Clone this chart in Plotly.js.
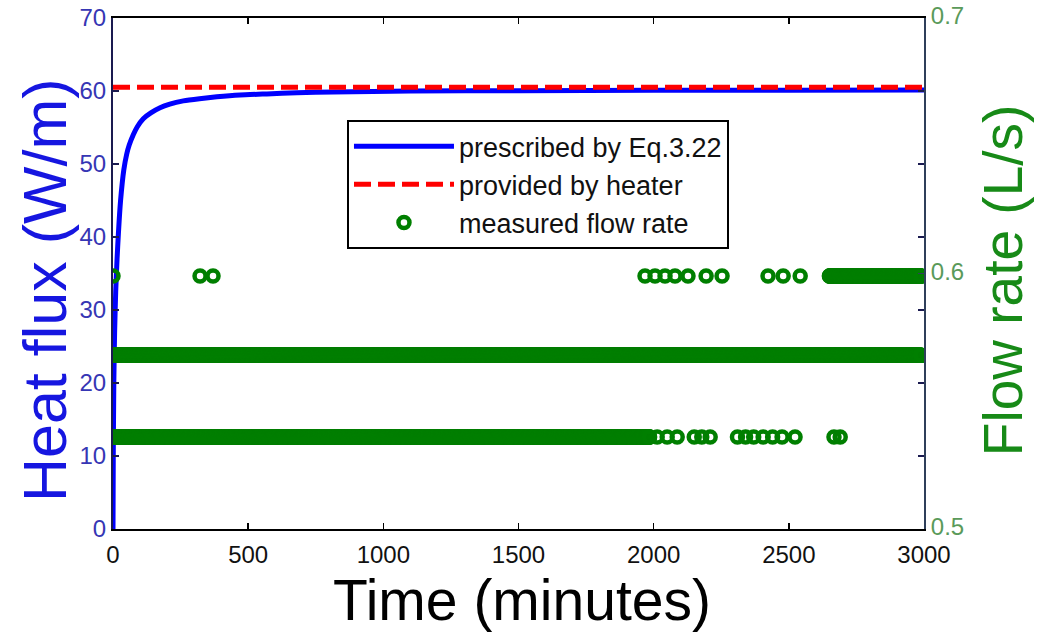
<!DOCTYPE html>
<html>
<head>
<meta charset="utf-8">
<script src="https://cdn.plot.ly/plotly-3.0.1.min.js"></script>
<style>
  html, body { margin: 0; padding: 0; background: #ffffff; }
  #chart { width: 1044px; height: 632px; }
</style>
</head>
<body>
<div id="chart"></div>
<script>
// Prescribed heat flux (Eq. 3.22), time in minutes, flux in W/m
const prescribedTime = [0, 1, 3, 6, 10, 15, 20, 28, 40, 51, 60, 75, 90, 112, 140, 174, 210, 260, 320, 384, 470, 569, 680, 815, 1100, 1500, 2000, 2500, 3000];
const prescribedFlux = [0, 10, 20, 27, 32.5, 37, 40.5, 45, 49.2, 51.4, 52.6, 54.0, 55.1, 56.2, 57.0, 57.7, 58.2, 58.65, 58.95, 59.2, 59.45, 59.6, 59.75, 59.88, 60.0, 60.05, 60.1, 60.1, 60.15];

// Heat flux delivered by the heater
const heaterTime = [0, 3000];
const heaterFlux = [60.5, 60.5];

// Measured flow rate (L/s): the meter reports three discrete levels
const flowLevels = [0.536, 0.568, 0.599];
// Continuous stretches [start, end] (minutes) logged at each level, sampled every minute
const flowRunsLow = [[0, 1985]];
const flowRunsMid = [[0, 2990]];
const flowRunsHigh = [[2650, 2990]];
// Isolated readings (minutes) at each level
const flowPointsLow = [2013, 2050, 2087, 2150, 2178, 2209, 2310, 2340, 2370, 2405, 2440, 2475, 2523, 2667, 2690];
const flowPointsMid = [];
const flowPointsHigh = [0, 322, 370, 1968, 2005, 2042, 2079, 2127, 2194, 2253, 2423, 2479, 2542];

const sampleStep = 1;

function runTimes(runs, points) {
  const t = [];
  runs.forEach(function (r) {
    for (let m = r[0]; m <= r[1]; m += sampleStep) t.push(m);
  });
  return t.concat(points);
}

const flowTime = [];
const flowRate = [];
[[flowRunsLow, flowPointsLow], [flowRunsMid, flowPointsMid], [flowRunsHigh, flowPointsHigh]].forEach(function (pair, i) {
  runTimes(pair[0], pair[1]).forEach(function (m) {
    flowTime.push(m);
    flowRate.push(flowLevels[i]);
  });
});

const FONT = '"Liberation Sans", Arial, sans-serif';
const GREEN = '#007f00';

const traces = [
  {
    x: prescribedTime, y: prescribedFlux,
    type: 'scatter', mode: 'lines',
    name: 'prescribed by Eq.3.22',
    line: { color: '#0000ff', width: 5, shape: 'spline', smoothing: 0.5 },
    yaxis: 'y'
  },
  {
    x: heaterTime, y: heaterFlux,
    type: 'scatter', mode: 'lines',
    name: 'provided by heater',
    line: { color: '#ff0000', width: 5, dash: '17px,7px' },
    yaxis: 'y'
  },
  {
    x: flowTime, y: flowRate,
    type: 'scatter', mode: 'markers',
    name: 'measured flow rate',
    marker: { symbol: 'circle-open', size: 11, color: GREEN, line: { width: 4.5, color: GREEN } },
    yaxis: 'y2'
  }
];

const layout = {
  width: 1044, height: 632,
  margin: { l: 113, r: 120, t: 18, b: 103, pad: 0 },
  paper_bgcolor: '#ffffff', plot_bgcolor: '#ffffff',
  font: { family: FONT, color: '#000000' },
  showlegend: true,
  legend: {
    x: 0.2885, y: 0.80, xanchor: 'left', yanchor: 'top',
    bgcolor: '#ffffff', bordercolor: '#000000', borderwidth: 2,
    font: { family: FONT, size: 27, color: '#111111' },
    itemwidth: 100, tracegroupgap: 0
  },
  xaxis: {
    range: [0, 3000],
    tickvals: [0, 500, 1000, 1500, 2000, 2500, 3000],
    ticks: 'inside', ticklen: 6, tickwidth: 1.5, tickcolor: '#000000',
    showline: true, linecolor: '#000000', linewidth: 2, mirror: 'ticks',
    showgrid: false, zeroline: false,
    ticklabelstandoff: 3,
    tickfont: { family: FONT, size: 24, color: '#111111' }
  },
  yaxis: {
    range: [0, 70],
    tickvals: [0, 10, 20, 30, 40, 50, 60, 70],
    ticks: 'inside', ticklen: 6, tickwidth: 1.5, tickcolor: '#1a1a50',
    showline: true, linecolor: '#1a1a50', linewidth: 2, mirror: 'ticks',
    showgrid: false, zeroline: false,
    tickfont: { family: FONT, size: 24, color: '#3636b4' }
  },
  yaxis2: {
    overlaying: 'y', side: 'right',
    range: [0.5, 0.7],
    tickvals: [0.5, 0.6, 0.7], ticktext: ['0.5', '0.6', '0.7'],
    ticks: 'inside', ticklen: 6, tickwidth: 1.5, tickcolor: '#2f3f5a',
    showline: true, linecolor: '#2f3f5a', linewidth: 2,
    showgrid: false, zeroline: false,
    ticklabelshift: -2,
    tickfont: { family: FONT, size: 24, color: '#5a9a5a' }
  },
  annotations: [
    {
      text: 'Time (minutes)',
      xref: 'paper', yref: 'paper', x: 0.5043, y: -0.0725,
      xanchor: 'center', yanchor: 'top', showarrow: false,
      font: { family: FONT, size: 57, color: '#000000' }
    },
    {
      text: 'Heat flux (W/m)', textangle: -90,
      xref: 'paper', yref: 'paper', x: -0.0838, y: 0.4677,
      xanchor: 'center', yanchor: 'middle', showarrow: false,
      font: { family: FONT, size: 61, color: '#1616e0' }
    },
    {
      text: 'Flow rate (L/s)', textangle: -90,
      xref: 'paper', yref: 'paper', x: 1.0974, y: 0.487,
      xanchor: 'center', yanchor: 'middle', showarrow: false,
      font: { family: FONT, size: 55, color: '#178a17' }
    }
  ]
};

Plotly.newPlot('chart', traces, layout, { displayModeBar: false, staticPlot: true });
</script>
</body>
</html>
